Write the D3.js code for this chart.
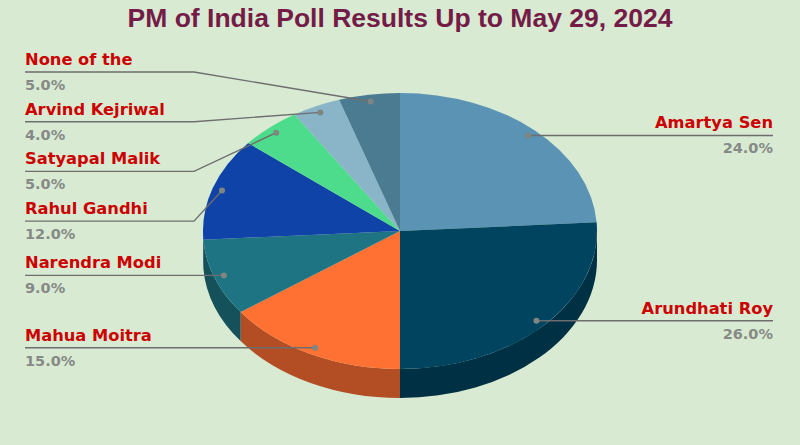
<!DOCTYPE html>
<html><head><meta charset="utf-8">
<script src="https://cdn.jsdelivr.net/npm/d3@7"></script>
<style>html,body{margin:0;padding:0;background:#d9ead3;} svg{display:block}</style>
</head><body>
<script>
// ---- data ----
const names  = ["Amartya Sen","Arundhati Roy","Mahua Moitra","Narendra Modi","Rahul Gandhi","Satyapal Malik","Arvind Kejriwal","None of the"];
const values = [24, 26, 15, 9, 12, 5, 4, 5];
const colors = ["#5a93b3","#00445f","#ff7033","#1e7482","#0f43a8","#4ddc8b","#8ab4c8","#4a7b91"];
const title  = "PM of India Poll Results Up to May 29, 2024";

// ---- layout ----
const W = 800, H = 445;
const cx = 400, cy = 231, rx = 197, ry = 138, depth = 29;
const svg = d3.select("body").append("svg").attr("width", W).attr("height", H);
svg.append("rect").attr("width", W).attr("height", H).attr("fill", "#d9ead3");

svg.append("text").attr("x", 400).attr("y", 27).attr("text-anchor", "middle")
  .attr("font-family", "Liberation Sans, Arial, sans-serif").attr("font-weight", "bold")
  .attr("font-size", 26.5).attr("fill", "#741b47").text(title);

const total = d3.sum(values);
const arcs = d3.pie().sort(null).value(d => d)(values);
const pt = (a, r = 1, dy = 0) => [cx + rx * r * Math.sin(a), cy - ry * r * Math.cos(a) + dy];

function slicePath(a0, a1) {
  const p0 = pt(a0), p1 = pt(a1);
  const large = (a1 - a0) > Math.PI ? 1 : 0;
  return `M${cx},${cy}L${p0[0]},${p0[1]}A${rx},${ry} 0 ${large} 1 ${p1[0]},${p1[1]}Z`;
}
function sidePath(a0, a1) {
  const s = Math.max(a0, Math.PI / 2), e = Math.min(a1, 3 * Math.PI / 2);
  if (e <= s) return null;
  const t0 = pt(s), t1 = pt(e), b0 = pt(s, 1, depth), b1 = pt(e, 1, depth);
  return `M${t0[0]},${t0[1]}A${rx},${ry} 0 0 1 ${t1[0]},${t1[1]}L${b1[0]},${b1[1]}A${rx},${ry} 0 0 0 ${b0[0]},${b0[1]}Z`;
}

const gSide = svg.append("g"), gTop = svg.append("g");
arcs.forEach((a, i) => {
  const sp = sidePath(a.startAngle, a.endAngle);
  if (sp) gSide.append("path").attr("d", sp).attr("fill", d3.color(colors[i]).darker(1.0));
});
arcs.forEach((a, i) => {
  gTop.append("path").attr("d", slicePath(a.startAngle, a.endAngle)).attr("fill", colors[i]);
});

// ---- labels ----
const labelFont = "DejaVu Sans, Verdana, sans-serif";
const fmt = v => d3.format(".1f")(v / total * 100) + "%";
const items = arcs.map((a, i) => {
  const mid = (a.startAngle + a.endAngle) / 2;
  const p = pt(mid, 0.95);
  return {i, mid, ax: p[0], ay: p[1], right: mid < Math.PI};
});
const rightItems = items.filter(d => d.right);
const leftItems = items.filter(d => !d.right).sort((a, b) => b.mid - a.mid);
rightItems.forEach(d => { d.ly = d.ay; });
let prev = null;
leftItems.forEach((d, k) => {
  d.ly = k === 0 ? 72 : Math.max(d.ay, prev + 49.7);
  prev = d.ly;
});

const gL = svg.append("g");
const lineColor = "#6e6e6e";
items.forEach(d => {
  let pts;
  if (d.right) {
    pts = [[d.ax, d.ay], [773, d.ly]];
  } else if (Math.abs(d.ly - d.ay) < 0.5) {
    pts = [[25, d.ly], [d.ax, d.ay]];
  } else {
    pts = [[25, d.ly], [194, d.ly], [d.ax, d.ay]];
  }
  gL.append("path").attr("d", d3.line()(pts)).attr("fill", "none")
    .attr("stroke", lineColor).attr("stroke-width", 1.4);
  gL.append("circle").attr("cx", d.ax).attr("cy", d.ay).attr("r", 3).attr("fill", "#7f8580");
  const tx = d.right ? 773 : 25, anchor = d.right ? "end" : "start";
  gL.append("text").attr("x", tx).attr("y", d.ly - 7).attr("text-anchor", anchor)
    .attr("font-family", labelFont).attr("font-weight", "bold").attr("font-size", 16.3)
    .attr("fill", "#cc0000").text(names[d.i]);
  gL.append("text").attr("x", tx).attr("y", d.ly + 18).attr("text-anchor", anchor)
    .attr("font-family", labelFont).attr("font-weight", "bold").attr("font-size", 14.5)
    .attr("fill", "#868a86").text(fmt(values[d.i]));
});
</script>
</body></html>
